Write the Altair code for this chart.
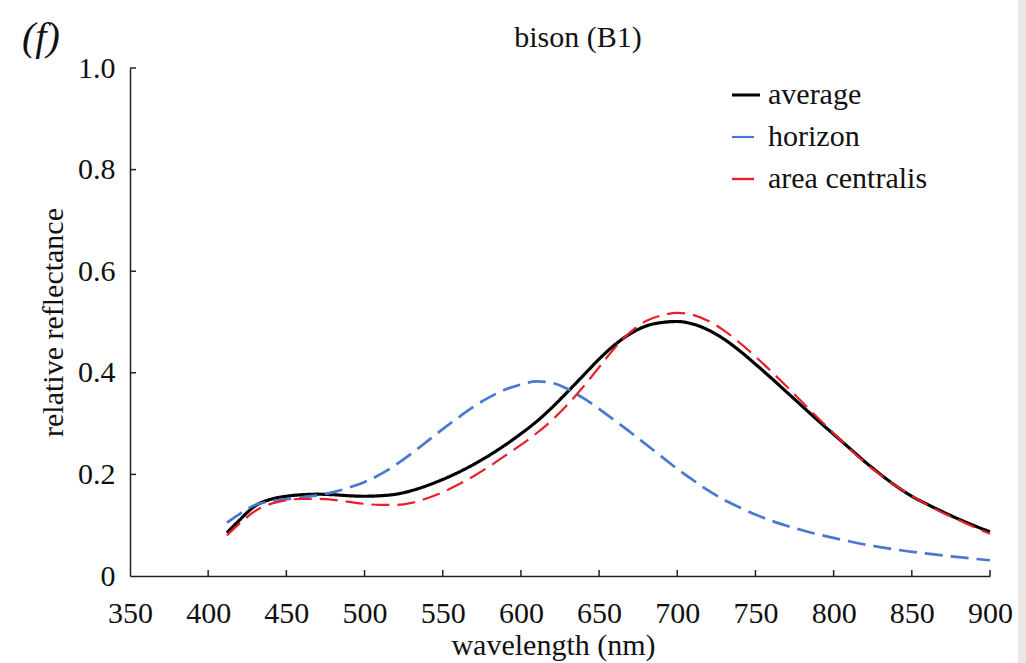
import altair as alt
import pandas as pd

# Relative reflectance spectra (wavelength in nm)
avg_wl = [412, 420, 430, 440, 450, 460, 470, 480, 490, 500, 510, 520, 530, 540, 550,
          560, 570, 580, 590, 600, 610, 620, 630, 640, 650, 660, 670, 680, 690, 700,
          710, 720, 730, 740, 750, 760, 770, 780, 790, 800, 810, 820, 830, 840, 850,
          860, 870, 880, 890, 900]
avg_val = [0.085, 0.110, 0.138, 0.151, 0.157, 0.160, 0.161, 0.160, 0.158, 0.157, 0.158, 0.161, 0.168, 0.178, 0.190,
           0.204, 0.220, 0.238, 0.258, 0.280, 0.304, 0.332, 0.363, 0.395, 0.427, 0.455, 0.477, 0.492, 0.499, 0.501,
           0.496, 0.484, 0.466, 0.443, 0.417, 0.390, 0.362, 0.334, 0.306, 0.279, 0.252, 0.225, 0.200, 0.177, 0.157,
           0.141, 0.126, 0.112, 0.099, 0.087]

hor_wl = [412, 420, 430, 440, 450, 460, 470, 480, 490, 500, 510, 520, 530, 540, 550,
          560, 570, 580, 590, 600, 610, 620, 630, 640, 650, 660, 670, 680, 690, 700,
          710, 720, 730, 740, 750, 760, 770, 780, 790, 800, 820, 840, 860, 880, 900]
hor_val = [0.105, 0.122, 0.140, 0.147, 0.151, 0.155, 0.159, 0.165, 0.174, 0.185, 0.200, 0.219, 0.241, 0.265, 0.289,
           0.312, 0.334, 0.352, 0.367, 0.377, 0.383, 0.380, 0.368, 0.350, 0.329, 0.306, 0.283, 0.259, 0.235, 0.211,
           0.189, 0.168, 0.150, 0.135, 0.121, 0.109, 0.099, 0.090, 0.082, 0.075, 0.062, 0.052, 0.044, 0.037, 0.031]

ac_wl = avg_wl
ac_val = [0.080, 0.103, 0.128, 0.142, 0.149, 0.152, 0.152, 0.150, 0.146, 0.142, 0.140, 0.140, 0.144, 0.153, 0.165,
          0.180, 0.197, 0.216, 0.237, 0.258, 0.281, 0.307, 0.338, 0.373, 0.411, 0.449, 0.480, 0.502, 0.513, 0.518,
          0.514, 0.502, 0.483, 0.459, 0.432, 0.403, 0.373, 0.342, 0.311, 0.281, 0.251, 0.223, 0.199, 0.177, 0.158,
          0.140, 0.124, 0.110, 0.096, 0.083]

series_names = ["average", "horizon", "area centralis"]
series_colors = ["#000000", "#4a78d0", "#e8202a"]
series_dashes = [[1, 0], [18, 8], [18, 8]]
series_widths = [3.2, 2.2, 2.4]
legend_dashes = [[1, 0], [22, 10], [22, 10]]

x_ticks = [350, 400, 450, 500, 550, 600, 650, 700, 750, 800, 850, 900]
y_ticks = [0, 0.2, 0.4, 0.6, 0.8, 1.0]

rows = []
for name, wls, vals in [("average", avg_wl, avg_val),
                        ("horizon", hor_wl, hor_val),
                        ("area centralis", ac_wl, ac_val)]:
    for w, v in zip(wls, vals):
        rows.append({"wl": w, "refl": v, "series": name})
df = pd.DataFrame(rows)

FONT = "Liberation Serif"
W, H = 860, 508

x_scale = alt.Scale(domain=[350, 900], nice=False, zero=False)
y_scale = alt.Scale(domain=[0, 1.0], nice=False)

lines = alt.Chart(df).mark_line(interpolate="monotone").encode(
    x=alt.X("wl:Q", scale=x_scale,
            axis=alt.Axis(title="wavelength (nm)", values=x_ticks, tickSize=0,
                          labelPadding=22, titlePadding=2, grid=False, labelFlush=False,
                          titleX=423, domainColor="#222", domainWidth=1.5)),
    y=alt.Y("refl:Q", scale=y_scale,
            axis=alt.Axis(title="relative reflectance", values=y_ticks, tickSize=0,
                          labelPadding=15, titlePadding=9, grid=False,
                          labelExpr="datum.value == 0 ? '0' : format(datum.value, '.1f')",
                          domainColor="#222", domainWidth=1.5)),
    color=alt.Color("series:N", sort=series_names,
                    scale=alt.Scale(domain=series_names, range=series_colors), legend=None),
    strokeDash=alt.StrokeDash("series:N", sort=series_names,
                              scale=alt.Scale(domain=series_names, range=series_dashes),
                              legend=None),
    strokeWidth=alt.StrokeWidth("series:N", sort=series_names,
                                scale=alt.Scale(domain=series_names, range=series_widths),
                                legend=None),
    order=alt.Order("series_order:Q"),
).transform_calculate(
    series_order="datum.series == 'average' ? 2 : (datum.series == 'horizon' ? 0 : 1)"
)

# inward tick marks on both axes
xt = pd.DataFrame({"wl": x_ticks[1:]})
x_tick_marks = alt.Chart(xt).mark_rule(color="#222", strokeWidth=1.5).encode(
    x=alt.X("wl:Q", scale=x_scale), y=alt.value(H), y2=alt.value(H - 6))

yt = pd.DataFrame({"refl": y_ticks[1:]})
y_tick_marks = alt.Chart(yt).mark_rule(color="#222", strokeWidth=1.5).encode(
    y=alt.Y("refl:Q", scale=y_scale), x=alt.value(0), x2=alt.value(6))

# legend in the upper right: one row per series
LEG_X, LEG_Y0, LEG_STEP = 602, 27, 42
legend_layers = []
for i, (name, col, dash, sw) in enumerate(zip(series_names, series_colors, legend_dashes, series_widths)):
    row = pd.DataFrame({"series": [name], "idx": [i]})
    base = alt.Chart(row).transform_calculate(py=f"{LEG_Y0} + datum.idx * {LEG_STEP}")
    legend_layers.append(base.mark_rule(color=col, strokeDash=dash, strokeWidth=sw).encode(
        x=alt.value(LEG_X), x2=alt.value(LEG_X + 28), y=alt.Y("py:Q", scale=None)))
    legend_layers.append(base.mark_text(font=FONT, fontSize=30, align="left", baseline="middle",
                                        color="#111").encode(
        x=alt.value(LEG_X + 36), y=alt.Y("py:Q", scale=None), text="series:N"))

# panel letter and panel title
panel = alt.Chart(pd.DataFrame({"t": ["(f)"]})).mark_text(
    font=FONT, fontSize=40, fontStyle="italic", align="left", baseline="alphabetic", color="#111"
).encode(text="t:N", x=alt.value(-108), y=alt.value(-18))

heading = alt.Chart(pd.DataFrame({"t": ["bison (B1)"]})).mark_text(
    font=FONT, fontSize=30, align="center", baseline="alphabetic", color="#111"
).encode(text="t:N", x=alt.value(448), y=alt.value(-21))

# page edge strip along the right side
edge = alt.Chart(pd.DataFrame({"t": [0]})).mark_rect(color="#ebe8e4").encode(
    x=alt.value(888), x2=alt.value(900), y=alt.value(-68), y2=alt.value(600))

chart = alt.layer(edge, lines, x_tick_marks, y_tick_marks, panel, heading, *legend_layers).properties(
    width=W, height=H,
    autosize=alt.AutoSizeParams(type="none"),
    padding={"left": 130, "top": 68, "right": 36, "bottom": 87},
    background="white",
).configure_view(stroke=None).configure_axis(
    labelFont=FONT, titleFont=FONT, labelFontSize=30, titleFontSize=30,
    labelColor="#111", titleColor="#111", titleFontWeight="normal"
)

chart.save("out.html", embed_options={"renderer": "svg", "actions": False})
